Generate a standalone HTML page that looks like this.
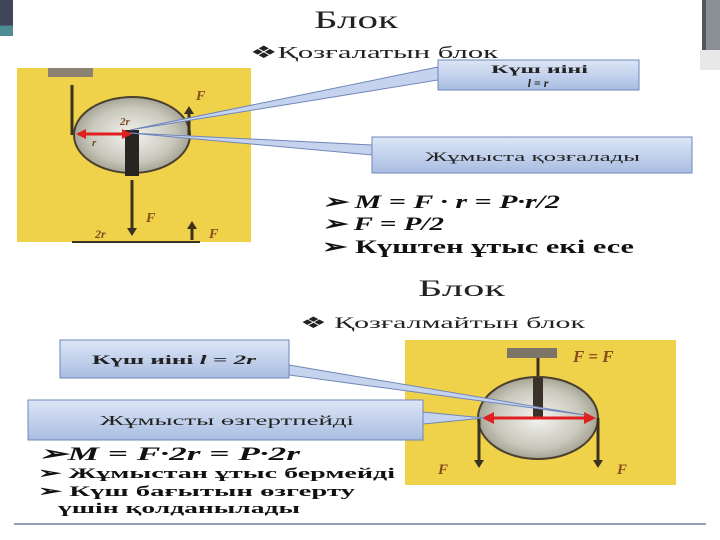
<!DOCTYPE html>
<html><head><meta charset="utf-8"><style>
body{margin:0;background:#fff;width:720px;height:540px;overflow:hidden}
svg{display:block}
text{font-family:"Liberation Serif",serif}
</style></head><body>
<svg width="720" height="540" viewBox="0 0 720 540">
<defs>
<linearGradient id="bx" x1="0" y1="0" x2="0" y2="1"><stop offset="0" stop-color="#dde6f6"/><stop offset="1" stop-color="#a9bde2"/></linearGradient>
<radialGradient id="disc" cx="0.5" cy="0.5" r="0.6"><stop offset="0" stop-color="#f4f4f0"/><stop offset="0.6" stop-color="#c8c8bc"/><stop offset="1" stop-color="#8d8a78"/></radialGradient>
<linearGradient id="tl" x1="0" y1="0" x2="0" y2="1"><stop offset="0" stop-color="#3d4557"/><stop offset="0.7" stop-color="#3d4557"/><stop offset="0.72" stop-color="#4e8c94"/><stop offset="1" stop-color="#4e8c94"/></linearGradient>
</defs>
<rect x="0" y="0" width="13" height="36" fill="url(#tl)"/>
<rect x="702" y="0" width="18" height="50" fill="#555"/>
<rect x="706" y="0" width="14" height="50" fill="#8a8f96"/>
<rect x="700" y="50" width="20" height="20" fill="#e8e8e8"/>
<text x="314" y="28" font-size="25" textLength="84" lengthAdjust="spacingAndGlyphs" fill="#222">Блок</text>
<text x="250" y="58" font-size="17" textLength="248" lengthAdjust="spacingAndGlyphs" fill="#222">❖Қозғалатын блок</text>

<!-- image 1 -->
<rect x="17" y="68" width="234" height="174" fill="#efd24a"/>
<rect x="48" y="68" width="45" height="9" fill="#8c8272"/>
<line x1="72" y1="85" x2="72" y2="135" stroke="#3a3220" stroke-width="3"/>
<ellipse cx="132" cy="135" rx="58" ry="38" fill="url(#disc)" stroke="#4a4030" stroke-width="2"/>
<rect x="125" y="130" width="14" height="46" fill="#2a2420"/>
<line x1="132" y1="180" x2="132" y2="228" stroke="#3a3220" stroke-width="3"/>
<polygon points="127,228 137,228 132,236" fill="#3a3220"/>
<line x1="189" y1="135" x2="189" y2="113" stroke="#3a3220" stroke-width="3"/>
<polygon points="184,114 194,114 189,106" fill="#3a3220"/>
<line x1="78" y1="134" x2="130" y2="134" stroke="#e02020" stroke-width="3"/>
<polygon points="76,134 86,129 86,139" fill="#e02020"/>
<polygon points="132,134 122,129 122,139" fill="#e02020"/>
<text x="120" y="125" font-size="11" font-style="italic" font-weight="bold" fill="#7a4a20">2r</text>
<text x="92" y="146" font-size="11" font-style="italic" font-weight="bold" fill="#7a4a20">r</text>
<text x="196" y="100" font-size="14" font-style="italic" font-weight="bold" fill="#8a4a20">F</text>
<text x="146" y="222" font-size="14" font-style="italic" font-weight="bold" fill="#8a4a20">F</text>
<text x="95" y="238" font-size="12" font-style="italic" font-weight="bold" fill="#7a4a20">2r</text>
<text x="209" y="238" font-size="14" font-style="italic" font-weight="bold" fill="#8a4a20">F</text>
<line x1="192" y1="240" x2="192" y2="227" stroke="#3a3220" stroke-width="3"/>
<polygon points="187,229 197,229 192,221" fill="#3a3220"/>
<line x1="72" y1="242" x2="200" y2="242" stroke="#3a3220" stroke-width="2"/>

<!-- callouts top -->
<polygon points="130,130 438,67 438,80" fill="#c6d3ee" stroke="#6f86b8" stroke-width="1"/>
<polygon points="130,133 372,145 372,155" fill="#c6d3ee" stroke="#6f86b8" stroke-width="1"/>
<rect x="438" y="60" width="201" height="30" fill="url(#bx)" stroke="#6f86b8"/>
<text x="491" y="73" font-size="12" font-weight="bold" textLength="97" lengthAdjust="spacingAndGlyphs" fill="#222">Күш иіні</text>
<text x="538" y="87" font-size="12" font-weight="bold" font-style="italic" text-anchor="middle" fill="#222">l = r</text>
<rect x="372" y="137" width="320" height="36" fill="url(#bx)" stroke="#6f86b8"/>
<text x="425" y="161" font-size="13" textLength="215" lengthAdjust="spacingAndGlyphs" fill="#222">Жұмыста қозғалады</text>

<text x="322" y="208" font-size="19" font-weight="bold" font-style="italic" textLength="238" lengthAdjust="spacingAndGlyphs" fill="#111">➢ M = F · r = P·r/2</text>
<text x="322" y="230" font-size="19" font-weight="bold" font-style="italic" textLength="122" lengthAdjust="spacingAndGlyphs" fill="#111">➢ F = P/2</text>
<text x="322" y="253" font-size="19" font-weight="bold" textLength="312" lengthAdjust="spacingAndGlyphs" fill="#111">➢ Күштен ұтыс екі есе</text>

<text x="418" y="296" font-size="23" textLength="87" lengthAdjust="spacingAndGlyphs" fill="#222">Блок</text>
<text x="300" y="328" font-size="16" textLength="285" lengthAdjust="spacingAndGlyphs" fill="#222">❖ Қозғалмайтын блок</text>

<!-- image 2 -->
<rect x="405" y="340" width="271" height="145" fill="#efd24a"/>
<rect x="507" y="348" width="50" height="10" fill="#7c7466"/>
<line x1="538" y1="358" x2="538" y2="418" stroke="#3a3220" stroke-width="3"/>
<ellipse cx="538" cy="418" rx="60" ry="41" fill="url(#disc)" stroke="#4a4030" stroke-width="2"/>
<rect x="533" y="378" width="10" height="40" fill="#3a3228"/>
<line x1="479" y1="418" x2="479" y2="462" stroke="#3a3220" stroke-width="3"/>
<polygon points="474,460 484,460 479,468" fill="#3a3220"/>
<line x1="598" y1="418" x2="598" y2="462" stroke="#3a3220" stroke-width="3"/>
<polygon points="593,460 603,460 598,468" fill="#3a3220"/>
<line x1="490" y1="418" x2="588" y2="418" stroke="#e02020" stroke-width="3"/>
<polygon points="482,418 494,412 494,424" fill="#e02020"/>
<polygon points="596,418 584,412 584,424" fill="#e02020"/>
<text x="573" y="362" font-size="17" font-weight="bold" font-style="italic" fill="#8a4a20">F = F</text>
<text x="438" y="474" font-size="15" font-weight="bold" font-style="italic" fill="#8a4a20">F</text>
<text x="617" y="474" font-size="15" font-weight="bold" font-style="italic" fill="#8a4a20">F</text>

<!-- callouts bottom -->
<polygon points="289,365 585,415 289,375" fill="#c6d3ee" stroke="#6f86b8" stroke-width="1"/>
<polygon points="423,412 484,418 423,424" fill="#c6d3ee" stroke="#6f86b8" stroke-width="1"/>
<rect x="60" y="340" width="229" height="38" fill="url(#bx)" stroke="#6f86b8"/>
<text x="92" y="364" font-size="13" font-weight="bold" textLength="164" lengthAdjust="spacingAndGlyphs" fill="#222">Күш иіні <tspan font-style="italic">l = 2r</tspan></text>
<rect x="28" y="400" width="395" height="40" fill="url(#bx)" stroke="#6f86b8"/>
<text x="100" y="425" font-size="14" textLength="254" lengthAdjust="spacingAndGlyphs" fill="#222">Жұмысты өзгертпейді</text>

<text x="38" y="460" font-size="19" font-weight="bold" font-style="italic" textLength="262" lengthAdjust="spacingAndGlyphs" fill="#111">➢M = F·2r = P·2r</text>
<text x="38" y="478" font-size="15" font-weight="bold" textLength="357" lengthAdjust="spacingAndGlyphs" fill="#111">➢ Жұмыстан ұтыс бермейді</text>
<text x="38" y="496" font-size="15" font-weight="bold" textLength="317" lengthAdjust="spacingAndGlyphs" fill="#111">➢ Күш  бағытын өзгерту</text>
<text x="58" y="513" font-size="15" font-weight="bold" textLength="242" lengthAdjust="spacingAndGlyphs" fill="#111">үшін  қолданылады</text>
<line x1="14" y1="524" x2="706" y2="524" stroke="#6d7fa3" stroke-width="1.5"/>
</svg>
</body></html>
